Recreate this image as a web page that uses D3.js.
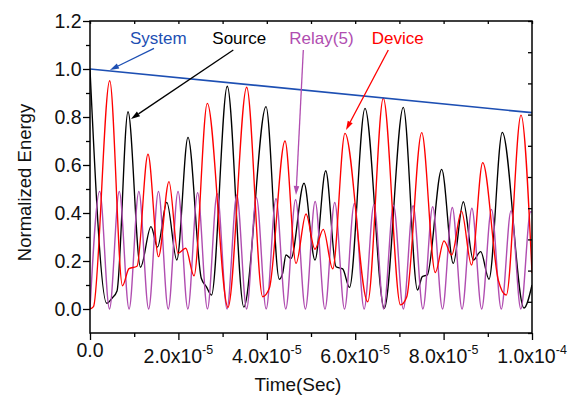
<!DOCTYPE html>
<html>
<head>
<meta charset="utf-8">
<script src="https://cdn.jsdelivr.net/npm/d3@7"></script>
<style>
  html, body { margin: 0; padding: 0; background: #fff; }
  svg { display: block; font-family: "Liberation Sans", Arial, Helvetica, sans-serif; }
</style>
</head>
<body>
<svg id="chart" width="577" height="397"></svg>
<script>
// Time axis in microseconds; labels are written in seconds.
const sourceT = [0, 3.78, 4.98, 6.11, 8.60, 11.43, 13.80, 15.27, 17.38, 19.64, 22.17, 25.18, 26.31, 27.49,
  31.06, 34.80, 39.82, 42.83, 43.60, 44.34, 45.48, 48.42, 50.90, 53.33, 55.66, 57.17, 58.71, 62.22,
  66.58, 70.88, 74.10, 75.18, 76.31, 79.57, 82.19, 84.46, 86.72, 88.39, 90.27, 93.28, 98.19, 100];
const sourceE = [1.0, 0.024, 0.045, 0.075, 0.822, 0.174, 0.343, 0.258, 0.444, 0.204, 0.715, 0.128, 0.093, 0.058,
  0.928, 0.008, 0.843, 0.124, 0.150, 0.225, 0.211, 0.524, 0.204, 0.576, 0.176, 0.167, 0.090, 0.836,
  0.003, 0.840, 0.079, 0.135, 0.142, 0.582, 0.190, 0.447, 0.204, 0.239, 0.124, 0.736, 0.004, 0.10];

const deviceT = [0, 0.79, 4.46, 7.35, 8.82, 10.63, 13.12, 15.50, 17.87, 19.91, 21.65, 23.53, 26.54, 31.22,
  35.45, 39.07, 40.57, 44.12, 46.61, 48.87, 50.90, 52.78, 54.91, 57.69, 62.83, 66.36, 70.25, 71.65,
  75.05, 78.12, 80.09, 81.83, 84.05, 86.31, 88.85, 92.38, 94.19, 97.51, 100];
const deviceE = [0.0, 0.01, 0.951, 0.097, 0.168, 0.178, 0.645, 0.218, 0.531, 0.232, 0.253, 0.138, 0.857, 0.007,
  0.924, 0.051, 0.086, 0.700, 0.190, 0.396, 0.249, 0.332, 0.167, 0.732, 0.030, 0.878, 0.017, 0.050,
  0.735, 0.152, 0.284, 0.225, 0.408, 0.183, 0.610, 0.120, 0.058, 0.808, 0.15];

const relayT = [0, 2.19, 4.41, 6.62, 8.84, 11.05, 13.27, 15.49, 17.70, 19.92, 22.14, 24.35, 26.57, 28.78,
  31.00, 33.21, 35.43, 37.65, 39.86, 42.08, 44.29, 46.51, 48.73, 50.94, 53.16, 55.37, 57.59, 59.81,
  62.02, 64.24, 66.45, 68.67, 70.89, 73.10, 75.32, 77.53, 79.75, 81.97, 84.18, 86.40, 88.61, 90.83,
  93.05, 95.26, 97.48, 99.69, 100];
const relayE = [0, 0.49, 0, 0.49, 0, 0.49, 0, 0.49, 0, 0.49, 0, 0.485, 0, 0.48,
  0, 0.475, 0, 0.465, 0, 0.46, 0, 0.455, 0, 0.448, 0, 0.444, 0, 0.44,
  0, 0.436, 0, 0.433, 0, 0.43, 0, 0.426, 0, 0.423, 0, 0.42, 0, 0.415,
  0, 0.41, 0, 0.405, 0.404];

const systemT = [0, 100];
const systemE = [1.0, 0.818];

const xTickValues = [0, 20, 40, 60, 80, 100];
const xTickLabels = ["0.0", "2.0x10", "4.0x10", "6.0x10", "8.0x10", "1.0x10"];
const xTickExponents = ["", "-5", "-5", "-5", "-5", "-4"];
const xMinorTicks = [10, 30, 50, 70, 90];
const yTickValues = [0, 0.2, 0.4, 0.6, 0.8, 1.0, 1.2];
const yTickLabels = ["0.0", "0.2", "0.4", "0.6", "0.8", "1.0", "1.2"];
const yMinorTicks = [0.1, 0.3, 0.5, 0.7, 0.9, 1.1];

const seriesNames = ["Source", "Relay(5)", "Device", "System"];

const svg = d3.select("#chart");
const plot = { left: 90, right: 532, top: 21, bottom: 333 };

const x = d3.scaleLinear().domain([0, 100]).range([plot.left, plot.right]);
const y = d3.scaleLinear().domain([-0.1, 1.2]).range([plot.bottom, plot.top]);

svg.append("defs").append("clipPath").attr("id", "plotClip")
  .append("rect")
  .attr("x", plot.left).attr("y", plot.top)
  .attr("width", plot.right - plot.left).attr("height", plot.bottom - plot.top);

const line = d3.line().x(d => x(d[0])).y(d => y(d[1])).curve(d3.curveMonotoneX);
const zip = (ts, vs) => ts.map((t, i) => [t, vs[i]]);

const series = [
  { name: seriesNames[0], data: zip(sourceT, sourceE), color: "#000000", width: 1.35 },
  { name: seriesNames[1], data: zip(relayT, relayE), color: "#b04db0", width: 1.4 },
  { name: seriesNames[2], data: zip(deviceT, deviceE), color: "#ff0000", width: 1.35 },
  { name: seriesNames[3], data: zip(systemT, systemE), color: "#1d4fb3", width: 1.7 }
];

const g = svg.append("g").attr("clip-path", "url(#plotClip)");
series.forEach(s => {
  g.append("path")
    .datum(s.data)
    .attr("fill", "none")
    .attr("stroke", s.color)
    .attr("stroke-width", s.width)
    .attr("stroke-linejoin", "round")
    .attr("d", line);
});

// Axes: bottom and left carry labels, ticks drawn outward
const xAxis = d3.axisBottom(x).tickValues(xTickValues).tickSize(7).tickFormat(() => "");
const xAxisMinor = d3.axisBottom(x).tickValues(xMinorTicks).tickSize(4).tickFormat(() => "");
const yAxis = d3.axisLeft(y).tickValues(yTickValues).tickSize(7).tickFormat(() => "");
const yAxisMinor = d3.axisLeft(y).tickValues(yMinorTicks).tickSize(4).tickFormat(() => "");

function styleAxis(sel) {
  sel.selectAll(".domain").remove();
  sel.selectAll(".tick line").attr("stroke", "#000").attr("stroke-width", 1.3);
}
svg.append("g").attr("transform", `translate(0,${plot.bottom})`).call(xAxis).call(styleAxis);
svg.append("g").attr("transform", `translate(0,${plot.bottom})`).call(xAxisMinor).call(styleAxis);
svg.append("g").attr("transform", `translate(${plot.left},0)`).call(yAxis).call(styleAxis);
svg.append("g").attr("transform", `translate(${plot.left},0)`).call(yAxisMinor).call(styleAxis);

// Top and right edges: small inward ticks
const topTicks = xTickValues.concat(xMinorTicks);
const xTop = d3.axisTop(x).tickValues(topTicks).tickSize(-3).tickFormat(() => "");
svg.append("g").attr("transform", `translate(0,${plot.top})`).call(xTop).call(styleAxis);
const yRight = d3.scaleLinear().domain([0, 10]).range([plot.bottom, plot.top]);
const yRightAxis = d3.axisRight(yRight).ticks(10).tickSize(-4).tickFormat(() => "");
svg.append("g").attr("transform", `translate(${plot.right},0)`).call(yRightAxis).call(styleAxis);

// Frame
svg.append("rect")
  .attr("x", plot.left).attr("y", plot.top)
  .attr("width", plot.right - plot.left).attr("height", plot.bottom - plot.top)
  .attr("fill", "none").attr("stroke", "#000").attr("stroke-width", 1.5);

// Tick labels
svg.append("g").selectAll("text").data(yTickValues).join("text")
  .attr("x", plot.left - 8.5)
  .attr("y", d => y(d))
  .attr("dy", "0.35em")
  .attr("text-anchor", "end")
  .attr("font-size", 19.5)
  .attr("fill", "#111")
  .text((d, i) => yTickLabels[i]);

const xl = svg.append("g").selectAll("text").data(xTickValues).join("text")
  .attr("x", d => x(d))
  .attr("y", (d, i) => xTickExponents[i] ? 362.5 : 356.5)
  .attr("text-anchor", "middle")
  .attr("font-size", 19.5)
  .attr("fill", "#111");
xl.append("tspan").text((d, i) => xTickLabels[i]);
xl.filter((d, i) => xTickExponents[i] !== "")
  .append("tspan")
  .attr("dy", -9)
  .attr("font-size", 12.5)
  .text((d, i) => xTickExponents[xTickValues.indexOf(d)]);

// Axis titles
svg.append("text")
  .attr("x", 298).attr("y", 391)
  .attr("text-anchor", "middle")
  .attr("font-size", 19)
  .attr("fill", "#111")
  .text("Time(Sec)");
svg.append("text")
  .attr("transform", "translate(30.5,182.5) rotate(-90)")
  .attr("text-anchor", "middle")
  .attr("font-size", 18.5)
  .attr("fill", "#111")
  .text("Normalized Energy");

// Labels with arrows pointing at their curves (data coordinates)
const labels = [
  { text: seriesNames[3], color: "#1d4fb3", at: [9.05, 1.104], from: [14.48, 1.086], to: [4.52, 0.996] },
  { text: seriesNames[0], color: "#000000", at: [27.67, 1.104], from: [32.42, 1.079], to: [9.28, 0.792] },
  { text: seriesNames[1], color: "#b04db0", at: [45.09, 1.104], from: [48.26, 1.079], to: [46.61, 0.475] },
  { text: seriesNames[2], color: "#ff0000", at: [63.73, 1.104], from: [67.49, 1.079], to: [57.92, 0.746] }
];

labels.forEach(l => {
  const x0 = x(l.from[0]), y0 = y(l.from[1]);
  const x1 = x(l.to[0]), y1 = y(l.to[1]);
  const ang = Math.atan2(y1 - y0, x1 - x0);
  const len = 9, hw = 2.8;
  const bx = x1 - len * Math.cos(ang), by = y1 - len * Math.sin(ang);
  svg.append("line")
    .attr("x1", x0).attr("y1", y0).attr("x2", bx).attr("y2", by)
    .attr("stroke", l.color).attr("stroke-width", 1.3);
  const px = -Math.sin(ang) * hw, py = Math.cos(ang) * hw;
  svg.append("path")
    .attr("d", `M${x1},${y1}L${bx + px},${by + py}L${bx - px},${by - py}Z`)
    .attr("fill", l.color);
  svg.append("text")
    .attr("x", x(l.at[0])).attr("y", y(l.at[1]))
    .attr("font-size", 17)
    .attr("fill", l.color)
    .text(l.text);
});
</script>
</body>
</html>
